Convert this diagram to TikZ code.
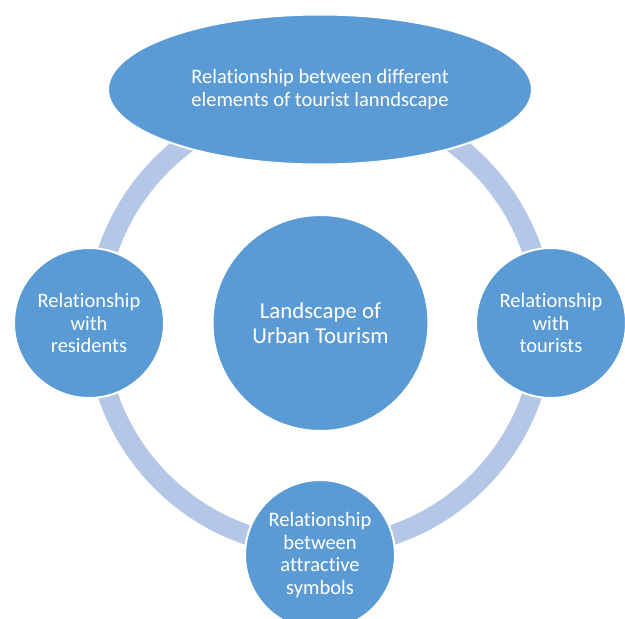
\documentclass[tikz,border=0pt]{standalone}
\usepackage{fontspec}
\setmainfont{Carlito}[Ligatures=NoCommon]
\usetikzlibrary{shapes.geometric}
\definecolor{nodeblue}{HTML}{5B9BD5}
\definecolor{ringblue}{HTML}{B4C7E7}
\begin{document}
\begin{tikzpicture}[x=1pt,y=-1pt,
  bubble/.style={circle, fill=nodeblue, draw=white, line width=2pt, text=white, align=center, inner sep=0pt},
  smalltext/.style={font=\fontsize{20.5}{22.8}\selectfont},
  bigtext/.style={font=\fontsize{22.8}{25}\selectfont}]
\useasboundingbox (0,0) rectangle (625,619);
\fill[white] (0,0) rectangle (625,619);
\begin{scope}
\clip (0,0) rectangle (625,619);
\coordinate (ringc) at (320,323);
\draw[ringblue, line width=20pt] (ringc) circle[radius=224pt];
\node[bubble, ellipse, minimum width=424pt, minimum height=150pt, smalltext] (top) at (320,89.5)
  {Relationship between different\\elements of tourist lanndscape};
\node[bubble, minimum size=216pt, bigtext] (center) at (320.5,323) {Landscape of\\Urban Tourism};
\node[bubble, minimum size=150pt, smalltext] (left) at (89,323) {Relationship\\with\\residents};
\node[bubble, minimum size=150pt, smalltext] (right) at (551,323) {Relationship\\with\\tourists};
\node[bubble, minimum size=150pt, smalltext] (bottom) at (320,555) {Relationship\\between\\attractive\\symbols};
\end{scope}
\end{tikzpicture}
\end{document}
